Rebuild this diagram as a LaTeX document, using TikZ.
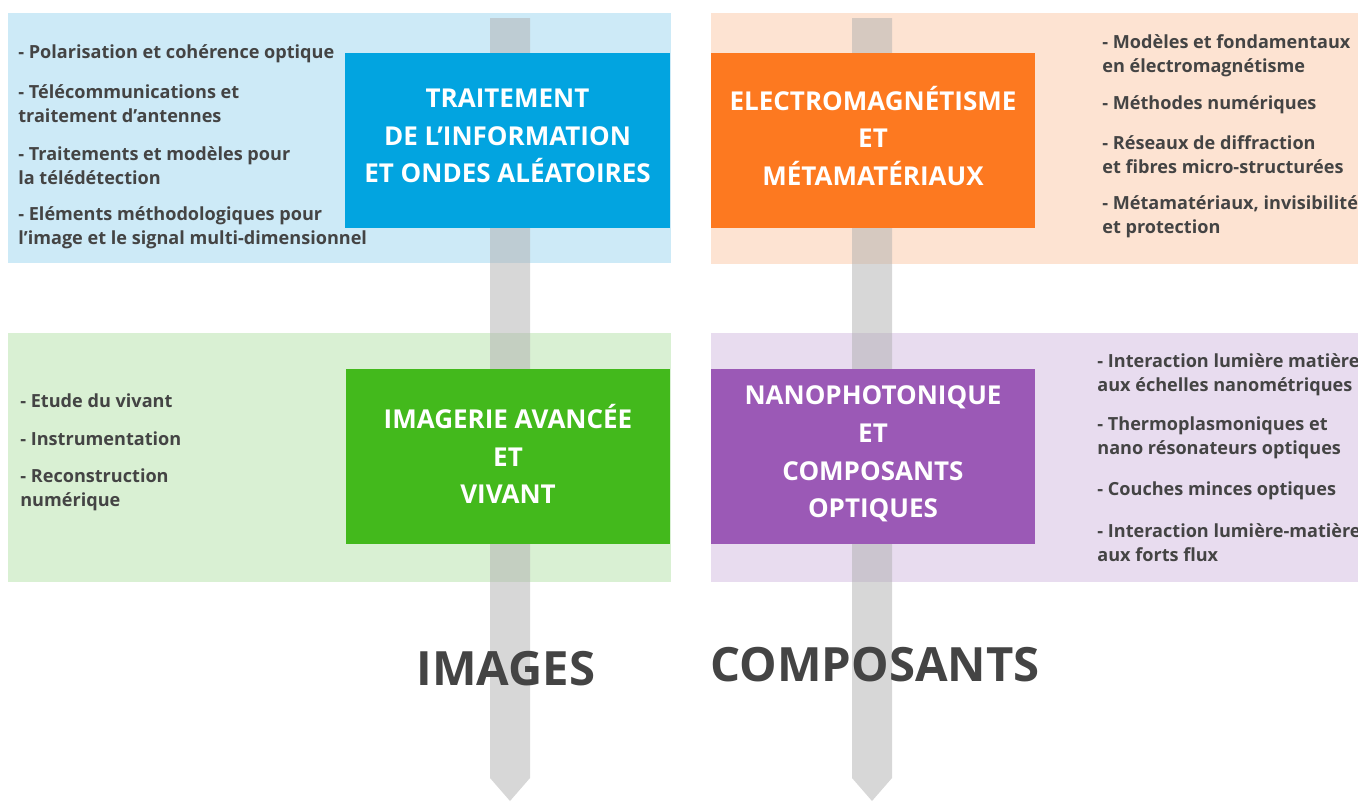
\documentclass[tikz,border=0pt]{standalone}
\usepackage{fontspec}
\setmainfont{Open Sans}
\definecolor{cbl}{HTML}{02A4E0}
\definecolor{cbll}{HTML}{CDEAF7}
\definecolor{cor}{HTML}{FD7920}
\definecolor{corl}{HTML}{FDE3D2}
\definecolor{cgr}{HTML}{43B91C}
\definecolor{cgrl}{HTML}{D9F0D3}
\definecolor{cpu}{HTML}{9B59B6}
\definecolor{cpul}{HTML}{E8DCEF}
\definecolor{ctx}{HTML}{444444}
\definecolor{cbar}{HTML}{B0B0B0}
\tikzset{
    itemtxt/.style={anchor=west, align=left, inner sep=0, text=ctx,
        font=\fontsize{10.3}{13.6}\selectfont\bfseries},
    titlebox/.style={minimum width=6.5cm, minimum height=3.5cm, inner sep=0,
        align=center, text=white, font=\fontsize{14.8}{21.5}\selectfont\bfseries},
    bigtxt/.style={inner sep=0, text=ctx, font=\fontsize{26.9}{30}\selectfont\bfseries}
}

\begin{document}
\begin{tikzpicture}[x=.02cm, y=-.02cm]
    \useasboundingbox (0, 0) rectangle (1358, 801);
    % panneaux clairs
    \fill[cbll](8, 13) rectangle (671, 263);
    \fill[corl](711, 13) rectangle (1358, 264);
    \fill[cgrl](8, 333) rectangle (671, 582);
    \fill[cpul](711, 333) rectangle (1358, 582);
    % fleches grises
    \foreach \xa in {490, 852}
        \fill[cbar, opacity=.5](\xa, 18)--(\xa+40, 18)--(\xa+40, 778)--(\xa+20, 801)--(\xa, 778)--cycle;
    % boites de titre
    \node[titlebox, fill=cbl] (tio) at (507.5, 140.5) {};
    \node[titlebox, fill=cor] (emm) at (873, 140.5) {};
    \node[titlebox, fill=cgr] (iav) at (508, 456.5) {};
    \node[titlebox, fill=cpu] (nco) at (873, 456.5) {};
    \node[titlebox, minimum size=0] (tiot) at (507.5, 136) {TRAITEMENT\\DE L’INFORMATION\\ET ONDES ALÉATOIRES};
    \node[titlebox, minimum size=0] (emmt) at (873, 136) {ELECTROMAGNÉTISME\\ET\\MÉTAMATÉRIAUX};
    \node[titlebox, minimum size=0] (iavt) at (508, 454) {IMAGERIE AVANCÉE\\ET\\VIVANT};
    \node[titlebox, minimum size=0] (ncot) at (873, 454) {NANOPHOTONIQUE\\ET\\COMPOSANTS\\OPTIQUES};
    % listes
    \node[itemtxt] (tio1) at (18, 54) {- Polarisation et cohérence optique};
    \node[itemtxt] (tio2) at (18, 104) {- Télécommunications et\\traitement d’antennes};
    \node[itemtxt] (tio3) at (18, 166) {- Traitements et modèles pour\\la télédétection};
    \node[itemtxt] (tio4) at (18, 228) {- Eléments méthodologiques pour\\l’image et le signal multi-dimensionnel};
    \node[itemtxt] (emm1) at (1102, 55.5) {- Modèles et fondamentaux\\en électromagnétisme};
    \node[itemtxt] (emm2) at (1102, 105) {- Méthodes numériques};
    \node[itemtxt] (emm3) at (1102, 154.5) {- Réseaux de diffraction\\et fibres micro-structurées};
    \node[itemtxt] (emm4) at (1102, 216.5) {- Métamatériaux, invisibilité\\et protection};
    \node[itemtxt] (iav1) at (20, 401) {- Etude du vivant};
    \node[itemtxt] (iav2) at (20, 439) {- Instrumentation};
    \node[itemtxt] (iav3) at (20, 490) {- Reconstruction\\numérique};
    \node[itemtxt] (nco1) at (1097, 375) {- Interaction lumière matière\\aux échelles nanométriques};
    \node[itemtxt] (nco2) at (1097, 438) {- Thermoplasmoniques et\\nano résonateurs optiques};
    \node[itemtxt] (nco3) at (1097, 491) {- Couches minces optiques};
    \node[itemtxt] (nco4) at (1097, 543) {- Interaction lumière-matière\\aux forts flux};
    % grands titres
    \node[bigtxt] (img) at (506, 669) {IMAGES};
    \node[bigtxt] (cmp) at (875, 665) {COMPOSANTS};
\end{tikzpicture}
\end{document}
